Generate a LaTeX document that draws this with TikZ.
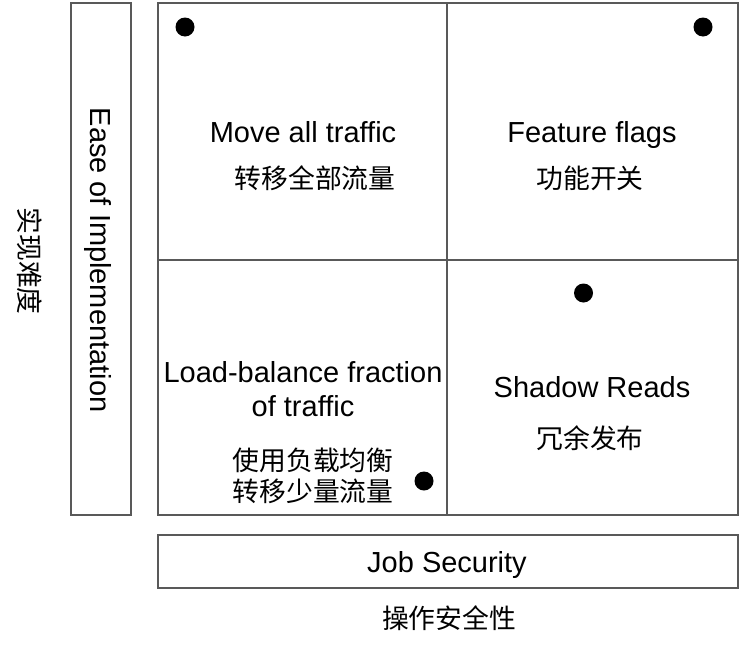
\documentclass[tikz,border=0pt]{standalone}
\usepackage{fontspec}
\setmainfont{Liberation Sans}
\newfontfamily\cjk{Noto Sans CJK SC}
\begin{document}
\begin{tikzpicture}[x=1pt,y=-1pt,
  frame/.style={draw=black!65,line width=1.3pt},
  en/.style={font=\fontsize{29}{33}\selectfont,inner sep=0pt,anchor=base},
  zh/.style={font=\cjk\fontsize{26.8}{31}\selectfont,inner sep=0pt,anchor=base},
  dot/.style={circle,fill=black,inner sep=0pt,minimum size=19pt}]
\useasboundingbox (0,0) rectangle (741,651);
% axis boxes
\draw[frame] (71,3) rectangle (131,515);
\draw[frame] (158,535) rectangle (738,588);
% quadrants
\draw[frame] (158,3) rectangle (738,515);
\draw[frame] (447,3) -- (447,515);
\draw[frame] (158,260) -- (738,260);
% dots
\node[dot] (d1) at (185,27) {};
\node[dot] (d2) at (703,27) {};
\node[dot] (d3) at (583.5,293) {};
\node[dot] (d4) at (424,481) {};
% quadrant texts
\node[en] (t1) at (303,142) {Move all traffic};
\node[zh] (c1) at (315,188) {转移全部流量};
\node[en] (t2) at (592,142) {Feature flags};
\node[zh] (c2) at (590,188) {功能开关};
\node[en] (t3a) at (303,382) {Load-balance fraction};
\node[en] (t3b) at (303,416) {of traffic};
\node[zh] (c3a) at (313,470) {使用负载均衡};
\node[zh] (c3b) at (313,501) {转移少量流量};
\node[en] (t4) at (592,397) {Shadow Reads};
\node[zh] (c4) at (590,448) {冗余发布};
% axis labels
\node[en,anchor=center,rotate=-90] (ya) at (98,260) {Ease of Implementation};
\node[zh,anchor=center,rotate=-90] (yz) at (30,261) {实现难度};
\node[en] (xa) at (447,572) {Job Security};
\node[zh] (xz) at (449,628) {操作安全性};
\end{tikzpicture}
\end{document}
